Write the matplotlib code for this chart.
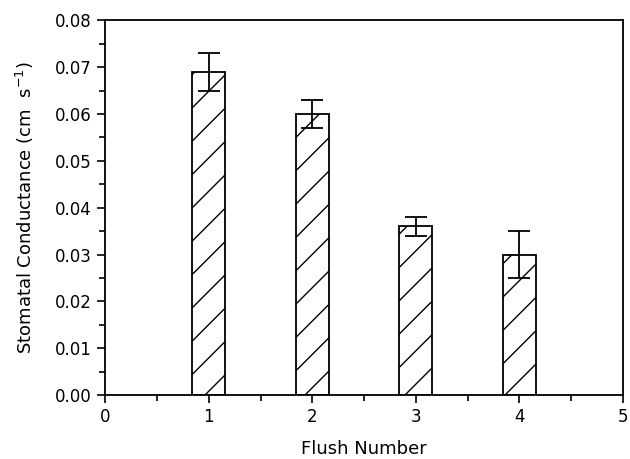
import matplotlib.pyplot as plt
from matplotlib.ticker import MultipleLocator

plt.rcParams['hatch.linewidth'] = 1.0

flush = [1, 2, 3, 4]
conductance = [0.069, 0.060, 0.036, 0.030]
err = [0.004, 0.003, 0.002, 0.005]

fig = plt.figure(figsize=(6.3, 4.59), dpi=100)
ax = fig.add_axes([0.167, 0.139, 0.822, 0.817])

ax.bar(flush, conductance, width=0.32, color='white', edgecolor='black',
       linewidth=1.3, hatch='/', zorder=2)
ax.errorbar(flush, conductance, yerr=err, fmt='none', ecolor='black',
            elinewidth=1.3, capsize=8, capthick=1.3, zorder=3)

ax.set_xlim(0, 5)
ax.set_ylim(0, 0.08)
ax.xaxis.set_major_locator(MultipleLocator(1))
ax.xaxis.set_minor_locator(MultipleLocator(0.5))
ax.yaxis.set_major_locator(MultipleLocator(0.01))
ax.yaxis.set_minor_locator(MultipleLocator(0.005))
ax.yaxis.set_major_formatter(plt.FormatStrFormatter('%.2f'))
ax.tick_params(which='both', direction='out', width=1.2, labelsize=12)
ax.tick_params(which='major', length=6)
ax.tick_params(which='minor', length=4)
for s in ax.spines.values():
    s.set_linewidth(1.3)

ax.set_xlabel('Flush Number', fontsize=13, labelpad=10)
ax.set_ylabel('Stomatal Conductance (cm  s$^{-1}$)', fontsize=13, labelpad=14)

fig.savefig('out.png', dpi=100)
